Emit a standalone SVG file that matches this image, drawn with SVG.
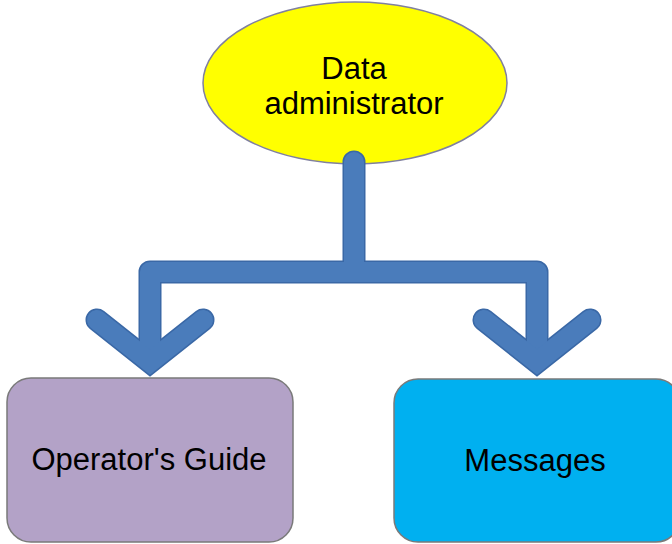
<svg xmlns="http://www.w3.org/2000/svg" xmlns:xlink="http://www.w3.org/1999/xlink" width="672" height="544" viewBox="0 0 672 544">
<style>
  .lbl { font-family: "Liberation Sans", Arial, sans-serif; font-size: 31px; fill: #000; text-anchor: middle; }
  .conn { fill: none; stroke-linecap: round; }
  .outer { stroke: #3a68a6; stroke-width: 23; }
  .inner { stroke: #4a7cbb; stroke-width: 20; }
  .box { stroke: #7a7a7a; stroke-width: 1.5; }
</style>
<defs>
  <path id="bus" d="M354,162 V272 M150,358 V272 H537 V358" stroke-linejoin="round"/>
  <path id="headL" d="M97,320 L150,362 L203,320" stroke-linejoin="miter" stroke-miterlimit="10"/>
  <path id="headR" d="M484,320 L537,362 L590,320" stroke-linejoin="miter" stroke-miterlimit="10"/>
</defs>
<rect width="672" height="544" fill="#ffffff"/>
<g id="node-data-administrator">
  <ellipse cx="355" cy="83" rx="152" ry="81" fill="#ffff00" stroke="#8080a0" stroke-width="1.5"/>
  <text class="lbl" x="354" y="79" font-size="30">Data</text>
  <text class="lbl" x="354" y="114" font-size="30">administrator</text>
</g>
<g id="connectors">
  <g class="conn outer">
    <use xlink:href="#bus"/>
    <use xlink:href="#headL"/>
    <use xlink:href="#headR"/>
  </g>
  <g class="conn inner">
    <use xlink:href="#bus"/>
    <use xlink:href="#headL"/>
    <use xlink:href="#headR"/>
  </g>
</g>
<g id="node-operators-guide">
  <rect class="box" x="7" y="378" width="286" height="164" rx="24" fill="#b3a2c7"/>
  <text class="lbl" x="149" y="470">Operator's Guide</text>
</g>
<g id="node-messages">
  <rect class="box" x="394" y="379" width="286" height="163" rx="24" fill="#00b0f0" stroke="#8a7a70"/>
  <text class="lbl" x="535" y="471">Messages</text>
</g>
</svg>
